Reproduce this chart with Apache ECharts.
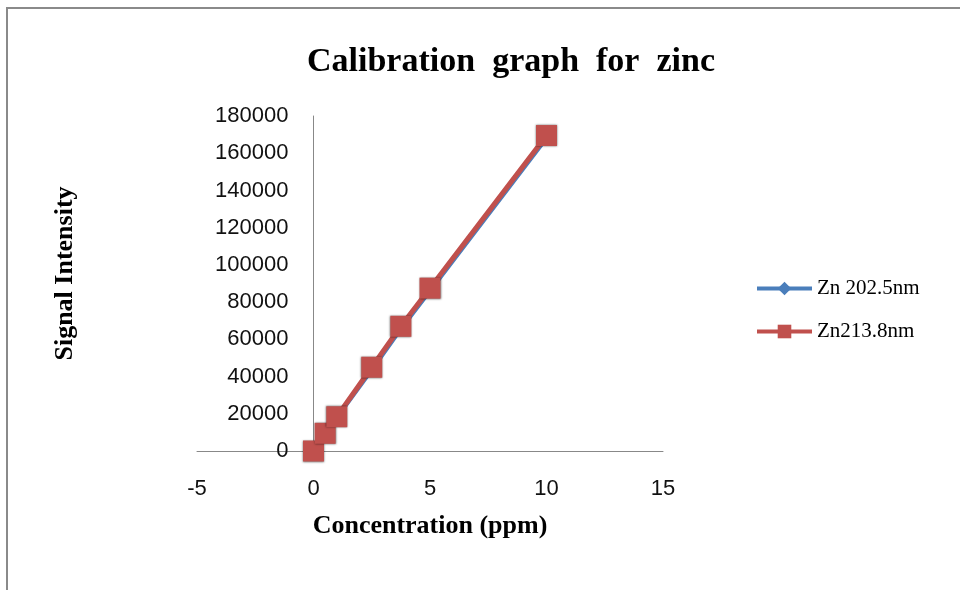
<!DOCTYPE html>
<html>
<head>
<meta charset="utf-8">
<script src="https://cdn.jsdelivr.net/npm/echarts@6/dist/echarts.min.js"></script>
<style>
  html, body { margin: 0; padding: 0; background: #fff; }
  #main { width: 960px; height: 590px; }
</style>
</head>
<body>
<div id="main"></div>
<script>
// values
var concentration = [0, 0.5, 1, 2.5, 3.75, 5, 10];
var zn2025 = [0, 9000, 17800, 43500, 65500, 86000, 168000];
var zn2138 = [0, 9500, 18400, 45000, 67000, 87500, 169500];
var seriesNames = ['Zn 202.5nm', 'Zn213.8nm'];

function pairs(xs, ys) {
    return xs.map(function (x, i) { return [x, ys[i]]; });
}

var chart = echarts.init(document.getElementById('main'));
chart.setOption({
    animation: false,
    title: {
        text: 'Calibration  graph  for  zinc',
        left: 506,
        textAlign: 'center',
        top: 40,
        textStyle: { fontFamily: 'Liberation Serif', fontWeight: 'bold', fontSize: 34, color: '#000' }
    },
    graphic: [{
        type: 'rect',
        shape: { x: 7, y: 8, width: 1000, height: 1000 },
        style: { fill: null, stroke: '#8a8a8a', lineWidth: 2 },
        silent: true
    }],
    legend: {
        orient: 'vertical',
        left: 755,
        top: 278,
        padding: 0,
        itemGap: 22,
        itemWidth: 55,
        itemHeight: 17,
        textStyle: { fontFamily: 'Liberation Serif', fontSize: 21, color: '#000' },
        data: [
            { name: seriesNames[0], lineStyle: { width: 4 } },
            { name: seriesNames[1], lineStyle: { width: 4 } }
        ]
    },
    grid: { left: 197, right: 297, top: 116, bottom: 139, outerBoundsMode: 'none' },
    xAxis: {
        type: 'value',
        min: -5, max: 15, interval: 5,
        name: 'Concentration (ppm)',
        nameLocation: 'middle',
        nameGap: 62,
        nameTextStyle: { fontFamily: 'Liberation Serif', fontWeight: 'bold', fontSize: 26, color: '#000' },
        axisLine: { onZero: true, lineStyle: { color: '#888', width: 1 } },
        axisTick: { show: false },
        splitLine: { show: false },
        axisLabel: { fontFamily: 'Liberation Sans', fontSize: 22, color: '#111', margin: 27 }
    },
    yAxis: {
        type: 'value',
        min: 0, max: 180000, interval: 20000,
        // sits on x = 0: a quarter of the 20-unit span right of grid left
        offset: -116.5,
        name: 'Signal Intensity',
        nameLocation: 'middle',
        nameGap: 235,
        nameTextStyle: {
            fontFamily: 'Liberation Serif', fontWeight: 'bold', fontSize: 26, color: '#000',
            padding: [0, 0, 0, 20]
        },
        axisLine: { show: true, onZero: false, lineStyle: { color: '#888', width: 1 } },
        axisTick: { show: false },
        splitLine: { show: false },
        axisLabel: {
            fontFamily: 'Liberation Sans', fontSize: 22, color: '#111', margin: 25,
            formatter: function (v) { return String(v); }
        }
    },
    series: [{
        name: seriesNames[0],
        type: 'line',
        data: pairs(concentration, zn2025),
        symbol: 'diamond',
        symbolSize: 14,
        lineStyle: { color: '#4a7ebb', width: 4 },
        itemStyle: { color: '#4a7ebb' }
    }, {
        name: seriesNames[1],
        type: 'line',
        data: pairs(concentration, zn2138),
        symbol: 'rect',
        symbolSize: 21,
        lineStyle: { color: '#c0504d', width: 5 },
        itemStyle: { color: '#c0504d', shadowColor: 'rgba(0,0,0,0.6)', shadowBlur: 2 }
    }]
});
</script>
</body>
</html>
